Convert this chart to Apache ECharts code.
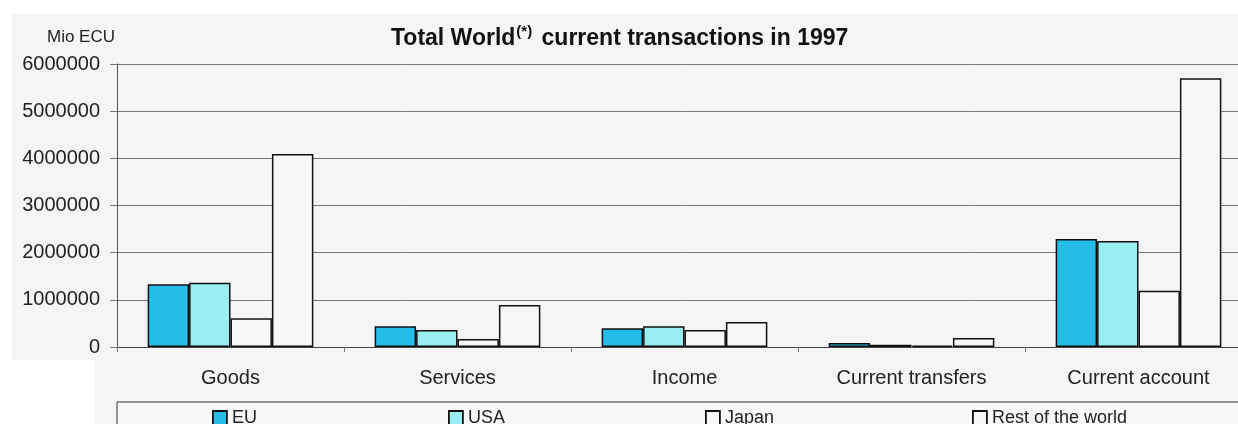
<!DOCTYPE html>
<html><head><meta charset="utf-8">
<script src="https://cdn.jsdelivr.net/npm/echarts@6/dist/echarts.min.js"></script>
<style>html,body{margin:0;padding:0;background:#fff;overflow:hidden}#c{width:1252px;height:424px}</style>
</head><body><div id="c"></div>
<script>
const categories = ['Goods', 'Services', 'Income', 'Current transfers', 'Current account'];
const seriesNames = ['EU', 'USA', 'Japan', 'Rest of the world'];
const euValues = [1330000, 440000, 400000, 85000, 2290000];
const usaValues = [1360000, 360000, 440000, 50000, 2250000];
const japanValues = [610000, 170000, 360000, 30000, 1190000];
const rowValues = [4090000, 890000, 530000, 190000, 5700000];
const yTicks = [0, 1000000, 2000000, 3000000, 4000000, 5000000, 6000000];

const colors = ['#25bce8', '#98eef0', '#f7f7f7', '#f7f7f7'];
const allValues = [euValues, usaValues, japanValues, rowValues];
const font = 'Liberation Sans, Arial, sans-serif';

const chart = echarts.init(document.getElementById('c'));
const legendLefts = [207, 443, 700, 967];
chart.setOption({
  backgroundColor: '#ffffff',
  animation: false,
  graphic: [
    {type: 'rect', shape: {x: 12, y: 14, width: 1240, height: 346}, style: {fill: '#f5f5f5'}, z: -10},
    {type: 'rect', shape: {x: 95, y: 360, width: 1157, height: 64}, style: {fill: '#f5f5f5'}, z: -10},
    {type: 'rect', shape: {x: 117, y: 402, width: 1140, height: 30}, style: {fill: '#f8f8f8', stroke: '#333', lineWidth: 1}, z: -5},
    {type: 'text', left: 47, top: 29, style: {text: 'Mio ECU', font: '17px ' + font, fill: '#222'}}
  ],
  title: {
    text: 'Total World{sup|(*)} current transactions in 1997',
    left: 386, top: 19,
    textStyle: {fontFamily: font, fontSize: 23, fontWeight: 'bold', color: '#111',
      rich: {sup: {fontSize: 15, fontWeight: 'bold', verticalAlign: 'top', padding: [0, 3, 14, 1], fontFamily: font, color: '#111'}}}
  },
  legend: legendLefts.map((l, i) => ({
    data: [seriesNames[i]], left: l, top: 404, icon: 'rect', itemWidth: 14, itemHeight: 14, itemGap: 4,
    textStyle: {fontFamily: font, fontSize: 18, color: '#222'},
    itemStyle: {borderColor: '#111', borderWidth: 1.8}
  })),
  grid: {left: 117, right: 0, top: 64, bottom: 77, containLabel: false},
  xAxis: {
    type: 'category', data: categories,
    axisLine: {lineStyle: {color: '#444', width: 1}},
    axisTick: {show: true, length: 5, lineStyle: {color: '#777'}},
    axisLabel: {fontFamily: font, fontSize: 20, color: '#222', margin: 21}
  },
  yAxis: {
    type: 'value', min: yTicks[0], max: yTicks[yTicks.length - 1], interval: 1000000,
    axisLine: {show: true, lineStyle: {color: '#555', width: 1}},
    axisTick: {show: true, length: 7, lineStyle: {color: '#777'}},
    axisLabel: {fontFamily: font, fontSize: 20, color: '#222', margin: 17, formatter: v => String(v)},
    splitLine: {lineStyle: {color: '#777', width: 1}}
  },
  series: seriesNames.map((n, i) => ({
    name: n, type: 'bar', data: allValues[i],
    barGap: '0%', barCategoryGap: '27%',
    itemStyle: {color: colors[i], borderColor: '#111', borderWidth: 1.5}
  }))
});
</script></body></html>
